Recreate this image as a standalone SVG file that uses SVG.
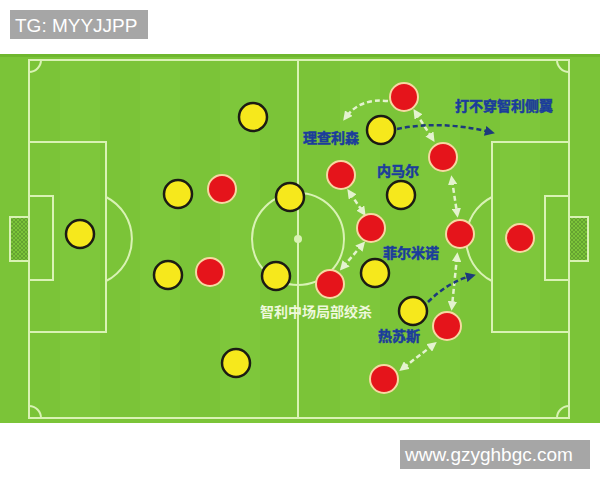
<svg xmlns="http://www.w3.org/2000/svg" width="600" height="480" viewBox="0 0 600 480">
<defs>
<style>
.line{fill:none;stroke:#d9f2b4;stroke-width:2}
.y{fill:#f6e81c;stroke:#1b1b14;stroke-width:2.5}
.r{fill:#e5141b;stroke:#f6d8a2;stroke-width:2}
.wa{fill:none;stroke:#e4f3cf;stroke-width:2.5;stroke-dasharray:5 3}
.ba{fill:none;stroke:#1d3a7c;stroke-width:2.5;stroke-dasharray:5 3}
.lbl{font-family:"Noto Sans CJK SC","Noto Sans",sans-serif;font-weight:bold;font-size:14px;fill:#1b3c9c;stroke:#1b3c9c;stroke-width:0.5}
.wl{font-family:"Noto Sans CJK SC","Noto Sans",sans-serif;font-weight:bold;font-size:14px;fill:#eef8dc}
.tag{font-family:"Liberation Sans",Arial,sans-serif;font-size:19px;fill:#ffffff}
</style>
<marker id="wh" viewBox="0 0 10 10" refX="5" refY="5" markerWidth="3.8" markerHeight="3.8" orient="auto-start-reverse" markerUnits="strokeWidth">
<path d="M0,0 L10,5 L0,10 Z" fill="#e4f3cf"/>
</marker>
<marker id="bh" viewBox="0 0 10 10" refX="5" refY="5" markerWidth="4" markerHeight="4" orient="auto" markerUnits="strokeWidth">
<path d="M0,0 L10,5 L0,10 Z" fill="#1d3a7c"/>
</marker>
<pattern id="net" width="4" height="4" patternUnits="userSpaceOnUse">
<path d="M0,0 L4,4 M4,0 L0,4" stroke="#5f9a30" stroke-width="0.8"/>
</pattern>
</defs>
<rect width="600" height="480" fill="#ffffff"/>
<g id="field">
<rect x="0" y="54" width="600" height="369" fill="#7bc438"/>
<rect x="0" y="54" width="600" height="3" fill="#6fb72e"/>
<rect x="60" y="57" width="40" height="366" fill="#81c93e" opacity="0.6"/>
<rect x="140" y="57" width="40" height="366" fill="#81c93e" opacity="0.6"/>
<rect x="220" y="57" width="40" height="366" fill="#81c93e" opacity="0.6"/>
<rect x="340" y="57" width="40" height="366" fill="#81c93e" opacity="0.6"/>
<rect x="420" y="57" width="40" height="366" fill="#81c93e" opacity="0.6"/>
<rect x="500" y="57" width="40" height="366" fill="#81c93e" opacity="0.6"/>
<rect x="29" y="60" width="540" height="358" class="line"/>
<line x1="298" y1="60" x2="298" y2="418" class="line"/>
<circle cx="298" cy="239" r="46" class="line"/>
<circle cx="298" cy="239" r="4" fill="#d9f2b4"/>
<rect x="29" y="142" width="77" height="190" class="line"/>
<rect x="29" y="196" width="24" height="84" class="line"/>
<rect x="10" y="217" width="19" height="44" fill="url(#net)" stroke="#d9f2b4" stroke-width="2"/>
<path d="M106,197 A47,47 0 0 1 106,281" class="line"/>
<rect x="492" y="142" width="77" height="190" class="line"/>
<rect x="545" y="196" width="24" height="84" class="line"/>
<rect x="569" y="217" width="19" height="44" fill="url(#net)" stroke="#d9f2b4" stroke-width="2"/>
<path d="M492,197 A47,47 0 0 0 492,281" class="line"/>
<path d="M29,72 A12,12 0 0 0 41,60" class="line"/>
<path d="M557,60 A12,12 0 0 0 569,72" class="line"/>
<path d="M29,406 A12,12 0 0 1 41,418" class="line"/>
<path d="M557,418 A12,12 0 0 1 569,406" class="line"/>
</g>
<g id="connectors">
<path d="M388,101 Q360,98 346,117" class="wa" marker-end="url(#wh)"/>
<path d="M416,113 L432,138" class="wa" marker-start="url(#wh)" marker-end="url(#wh)"/>
<path d="M452,180 L457,213" class="wa" marker-start="url(#wh)" marker-end="url(#wh)"/>
<path d="M350,193 L363,212" class="wa" marker-start="url(#wh)" marker-end="url(#wh)"/>
<path d="M362,245 L343,267" class="wa" marker-start="url(#wh)" marker-end="url(#wh)"/>
<path d="M457,257 L452,306" class="wa" marker-start="url(#wh)" marker-end="url(#wh)"/>
<path d="M433,345 L403,368" class="wa" marker-start="url(#wh)" marker-end="url(#wh)"/>
<path d="M397,129 Q440,120 490,132" class="ba" marker-end="url(#bh)"/>
<path d="M428,302 Q448,282 471,276" class="ba" marker-end="url(#bh)"/>
</g>
<g id="yellow-players">
<circle id="y1" cx="253" cy="117" r="14" class="y"/>
<circle id="y2" cx="178" cy="194" r="14" class="y"/>
<circle id="y3" cx="290" cy="197" r="14" class="y"/>
<circle id="y4" cx="80" cy="234" r="14" class="y"/>
<circle id="y5" cx="168" cy="275" r="14" class="y"/>
<circle id="y6" cx="276" cy="276" r="14" class="y"/>
<circle id="y7" cx="236" cy="363" r="14" class="y"/>
<circle id="y8" cx="381" cy="130" r="14" class="y"/>
<circle id="y9" cx="401" cy="195" r="14" class="y"/>
<circle id="y10" cx="375" cy="273" r="14" class="y"/>
<circle id="y11" cx="413" cy="311" r="14" class="y"/>
</g>
<g id="red-players">
<circle id="r1" cx="222" cy="189" r="14" class="r"/>
<circle id="r2" cx="404" cy="97" r="14" class="r"/>
<circle id="r3" cx="443" cy="157" r="14" class="r"/>
<circle id="r4" cx="341" cy="175" r="14" class="r"/>
<circle id="r5" cx="371" cy="228" r="14" class="r"/>
<circle id="r6" cx="460" cy="234" r="14" class="r"/>
<circle id="r7" cx="520" cy="238" r="14" class="r"/>
<circle id="r8" cx="210" cy="272" r="14" class="r"/>
<circle id="r9" cx="330" cy="284" r="14" class="r"/>
<circle id="r10" cx="447" cy="326" r="14" class="r"/>
<circle id="r11" cx="384" cy="379" r="14" class="r"/>
</g>
<g id="labels">
<text x="303" y="143" class="lbl">理查利森</text>
<text x="455" y="111" class="lbl">打不穿智利侧翼</text>
<text x="377" y="176" class="lbl">内马尔</text>
<text x="383" y="258" class="lbl">菲尔米诺</text>
<text x="378" y="341" class="lbl">热苏斯</text>
<text x="260" y="317" class="wl">智利中场局部绞杀</text>
</g>
<g id="tag-top">
<rect x="10" y="10" width="138" height="29" fill="#a6a6a6"/>
<text x="15" y="32" class="tag">TG: MYYJJPP</text>
</g>
<g id="tag-bottom">
<rect x="400" y="440" width="190" height="29" fill="#a6a6a6"/>
<text x="405" y="461" class="tag">www.gzyghbgc.com</text>
</g>
</svg>
